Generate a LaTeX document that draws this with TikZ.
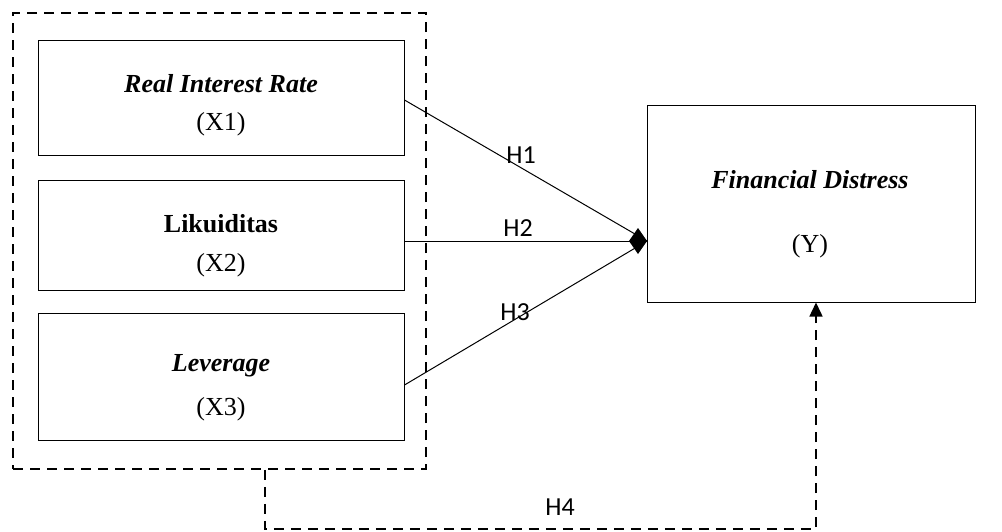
\documentclass[tikz,border=0pt]{standalone}
\usepackage{fontspec}
\setmainfont{Liberation Serif}
\newfontfamily\hfont{Carlito}
\usetikzlibrary{arrows.meta}

\tikzset{
  varbox/.style={draw, line width=1pt, minimum width=366pt, inner sep=0pt},
  grpbox/.style={draw, dashed, line width=1.8pt, dash pattern=on 10pt off 7pt},
  hyp/.style={font=\hfont\fontsize{26pt}{28pt}\selectfont},
  vname/.style={font=\fontsize{26pt}{30pt}\selectfont\bfseries\itshape},
  vcode/.style={font=\fontsize{26pt}{30pt}\selectfont},
  link/.style={line width=1pt},
}

\begin{document}
\begin{tikzpicture}[x=1pt,y=-1pt]
		\useasboundingbox (0,0) rectangle (1002,531);
		% group and variable boxes
		\node[grpbox, minimum width=413pt, minimum height=456pt] (grp) at (219.5,241) {};
		\node[varbox, minimum height=115pt] (rir) at (221,97.5) {};
		\node[varbox, minimum height=110pt] (liq) at (221,235) {};
		\node[varbox, minimum height=127pt] (lev) at (221,376.5) {};
		\node[draw, line width=1pt, minimum width=328pt, minimum height=197pt] (fd) at (811,203.5) {};
		
		\node[vname] (rirname) at (221,84) {Real Interest Rate};
		\node[vcode] (rircode) at (221,124) {(X1)};
		\node[vname, font=\fontsize{26pt}{30pt}\selectfont\bfseries] (liqname) at (221,224) {Likuiditas};
		\node[vcode] (liqcode) at (221,265) {(X2)};
		\node[vname] (levname) at (221,366) {Leverage};
		\node[vcode] (levcode) at (221,409) {(X3)};
		\node[vname] (fdname) at (810,180) {Financial Distress};
		\node[vcode] (fdcode) at (810,246) {(Y)};
		
		% hypotheses
		\coordinate (tip) at (647,241);
		\draw[link] ([yshift=-2.5pt]rir.east) -- (tip);
		\draw[link, -{Diamond[length=18pt,width=26pt]}] (liq.east |- tip) -- (tip);
		\draw[link] ([yshift=-8.5pt]lev.east) -- (tip);
		\node[hyp] (h1) at (521,155) {H1};
		\node[hyp] (h2) at (518,228) {H2};
		\node[hyp] (h3) at (515,312) {H3};
		
		\draw[line width=1.5pt, dash pattern=on 10pt off 7pt, -{Triangle[length=14pt,width=13pt]}]
			(grp.south -| 265,0) -- (265,529) -- (816,529) -- (fd.south -| 816,0);
		\node[hyp] (h4) at (560,507) {H4};
\end{tikzpicture}
\end{document}
